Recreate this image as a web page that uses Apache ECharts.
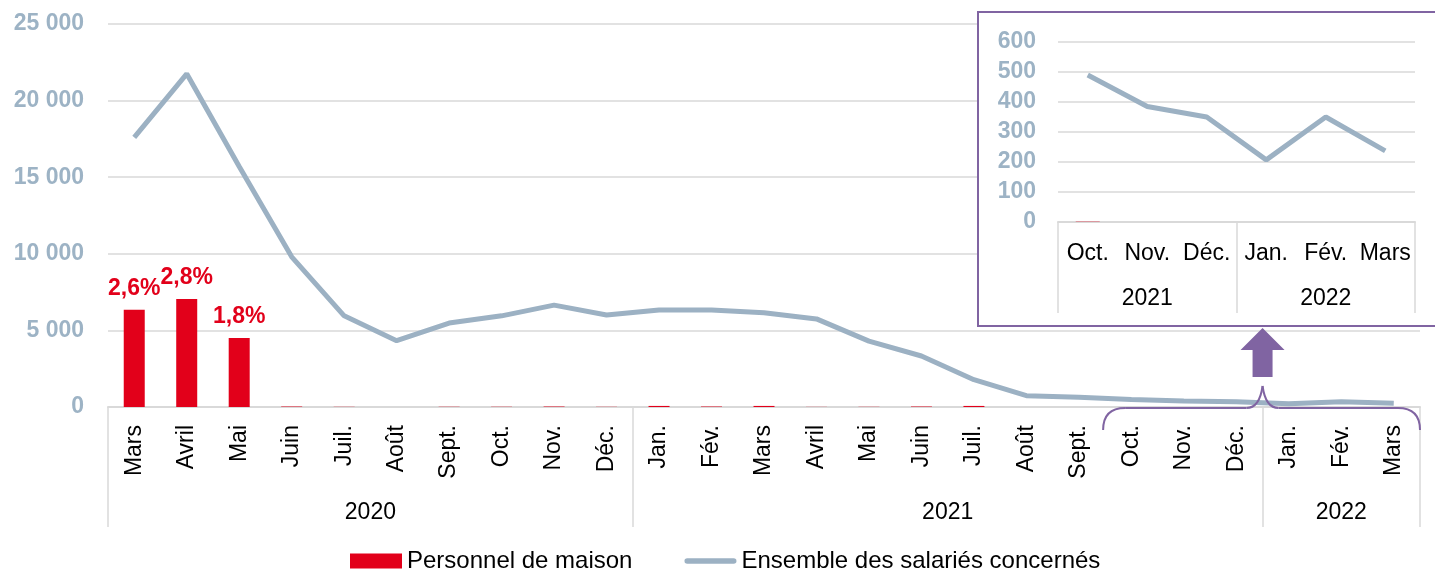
<!DOCTYPE html>
<html lang="fr">
<head>
<meta charset="utf-8">
<title>Personnel de maison – salariés concernés</title>
<script src="https://cdn.jsdelivr.net/npm/echarts@6.0.0/dist/echarts.min.js"></script>
<style>
  html, body { margin: 0; padding: 0; background: #ffffff; }
  #chart { width: 1435px; height: 571px; }
</style>
</head>
<body>
<div id="chart"></div>
<script>
// Months from March 2020 to March 2022
const months = ['Mars', 'Avril', 'Mai', 'Juin', 'Juil.', 'Août', 'Sept.', 'Oct.', 'Nov.', 'Déc.',
  'Jan.', 'Fév.', 'Mars', 'Avril', 'Mai', 'Juin', 'Juil.', 'Août', 'Sept.', 'Oct.', 'Nov.', 'Déc.',
  'Jan.', 'Fév.', 'Mars'];
const yearLabels = ['2020', '2021', '2022'];
const yearSpans = [10, 12, 3];

// Employees concerned, per month
const personnel = [6350, 7050, 4500, 30, 12, 0, 15, 15, 30, 12,
  70, 30, 70, 8, 12, 30, 70, 0, 0, 1, 0, 0, 0, 0, 0];
const ensemble = [17600, 21750, 15700, 9800, 5950, 4330, 5480, 5950, 6650, 6000,
  6330, 6330, 6150, 5750, 4300, 3330, 1780, 740, 640, 490, 385, 350, 207, 350, 237];
// Share of domestic staff in the total, shown above the bars
const shares = ['2,6%', '2,8%', '1,8%'];

// Zoomed panel: last six months
const zoomCount = 6;
const zoomYearLabels = ['2021', '2022'];
const zoomYearSpans = [3, 3];

const mainTicks = [0, 5000, 10000, 15000, 20000, 25000];
const zoomTicks = [0, 100, 200, 300, 400, 500, 600];

const FONT = "'Liberation Sans', Arial, Helvetica, sans-serif";
const RED = '#e2001a';
const BLUE = '#9cb1c3';
const AXIS_TXT = '#9db3c5';
const GRIDC = '#d9d9d9';
const PURPLE = '#8064a2';

function bounds(spans) {
  const b = [0];
  spans.forEach(s => b.push(b[b.length - 1] + s));
  return b;
}
function mids(spans) {
  const b = bounds(spans);
  return spans.map((s, i) => b[i] + s / 2);
}
const thousands = v => String(v).replace(/\B(?=(\d{3})+(?!\d))/g, ' ');

const yearBounds = bounds(yearSpans);
const yearMids = mids(yearSpans);
const zoomBounds = bounds(zoomYearSpans);
const zoomMids = mids(zoomYearSpans);

const chart = echarts.init(document.getElementById('chart'), null, { renderer: 'canvas' });

const option = {
  animation: false,
  backgroundColor: '#ffffff',
  textStyle: { fontFamily: FONT },
  grid: [
    { left: 108, right: 15, top: 24, bottom: 164, containLabel: false },
    { left: 1058, right: 20, top: 42, bottom: 349, containLabel: false }
  ],
  legend: {
    left: 350, top: 549, padding: 0,
    itemWidth: 52, itemHeight: 15, itemGap: 52, itemTextGap: 6,
    textStyle: { fontFamily: FONT, fontSize: 24, color: '#000' },
    data: [
      { name: 'Personnel de maison', icon: 'rect' },
      {
        name: 'Ensemble des salariés concernés',
        icon: 'path://M3,0 L53,0 A3,3 0 0 1 53,6 L3,6 A3,3 0 0 1 3,0 Z',
        itemStyle: { color: BLUE }
      }
    ]
  },
  xAxis: [
    {
      type: 'category', gridIndex: 0, data: months, boundaryGap: true, position: 'bottom',
      axisLine: { show: true, lineStyle: { color: GRIDC, width: 2 } },
      axisTick: { show: false },
      axisLabel: { rotate: 90, margin: 18, interval: 0, fontSize: 23, color: '#000', fontFamily: FONT }
    },
    {
      type: 'value', gridIndex: 0, min: 0, max: yearBounds[yearBounds.length - 1], position: 'bottom',
      axisLine: { show: false },
      splitLine: { show: false },
      axisTick: { show: true, customValues: yearBounds, length: 120, lineStyle: { color: GRIDC, width: 1.5 } },
      axisLabel: {
        customValues: yearMids, margin: 94, fontSize: 23, color: '#000', fontFamily: FONT,
        formatter: v => yearLabels[yearMids.indexOf(v)] || ''
      }
    },
    {
      type: 'category', gridIndex: 1, data: months.slice(-zoomCount), boundaryGap: true, position: 'bottom', z: 3,
      axisLine: { show: true, lineStyle: { color: GRIDC, width: 2 } },
      axisTick: { show: false },
      axisLabel: { interval: 0, margin: 20, fontSize: 23, color: '#000', fontFamily: FONT }
    },
    {
      type: 'value', gridIndex: 1, min: 0, max: zoomBounds[zoomBounds.length - 1], position: 'bottom', z: 3,
      axisLine: { show: false },
      splitLine: { show: false },
      axisTick: { show: true, customValues: zoomBounds, length: 91, lineStyle: { color: GRIDC, width: 1.5 } },
      axisLabel: {
        customValues: zoomMids, margin: 65, fontSize: 23, color: '#000', fontFamily: FONT,
        formatter: v => zoomYearLabels[zoomMids.indexOf(v)] || ''
      }
    }
  ],
  yAxis: [
    {
      type: 'value', gridIndex: 0, min: mainTicks[0], max: mainTicks[mainTicks.length - 1],
      interval: mainTicks[1] - mainTicks[0],
      axisLine: { show: false }, axisTick: { show: false },
      splitLine: { show: true, lineStyle: { color: GRIDC, width: 1.5 } },
      axisLabel: { margin: 24, fontSize: 23, fontWeight: 'bold', color: AXIS_TXT, fontFamily: FONT, formatter: thousands }
    },
    {
      type: 'value', gridIndex: 1, min: zoomTicks[0], max: zoomTicks[zoomTicks.length - 1],
      interval: zoomTicks[1] - zoomTicks[0], z: 3,
      axisLine: { show: false }, axisTick: { show: false },
      splitLine: { show: true, lineStyle: { color: GRIDC, width: 1.5 } },
      axisLabel: { margin: 22, fontSize: 23, fontWeight: 'bold', color: AXIS_TXT, fontFamily: FONT }
    }
  ],
  series: [
    {
      name: 'Personnel de maison', type: 'bar', xAxisIndex: 0, yAxisIndex: 0,
      data: personnel, barWidth: 21, itemStyle: { color: RED },
      label: {
        show: true, position: 'top', distance: 10,
        fontSize: 23, fontWeight: 'bold', color: RED, fontFamily: FONT,
        formatter: p => shares[p.dataIndex] || ''
      }
    },
    {
      name: 'Ensemble des salariés concernés', type: 'line', xAxisIndex: 0, yAxisIndex: 0,
      data: ensemble, symbol: 'none', z: 3,
      lineStyle: { color: BLUE, width: 5 }, itemStyle: { color: BLUE }
    },
    {
      name: 'Personnel de maison', type: 'bar', xAxisIndex: 2, yAxisIndex: 1, z: 4,
      data: personnel.slice(-zoomCount), barWidth: 24, itemStyle: { color: RED }
    },
    {
      name: 'Ensemble des salariés concernés', type: 'line', xAxisIndex: 2, yAxisIndex: 1, z: 5,
      data: ensemble.slice(-zoomCount), symbol: 'none',
      lineStyle: { color: BLUE, width: 5 }, itemStyle: { color: BLUE }
    }
  ]
};

chart.setOption(option);

// Panel frame, arrow and brace pointing at the zoomed period
const px = v => chart.convertToPixel({ xAxisIndex: 1 }, v);
const y0 = chart.convertToPixel({ yAxisIndex: 0 }, 0);
const zStart = yearBounds[yearBounds.length - 1] - zoomCount;
const xL = px(zStart) - 2;
const xR = px(yearBounds[yearBounds.length - 1]);
const xM = px(yearBounds[yearBounds.length - 2]);
const bY = y0 + 1;
const braceStyle = { stroke: PURPLE, lineWidth: 2, fill: 'none' };

function curve(x1, y1, cx, cy, x2, y2) {
  return {
    type: 'bezierCurve', z: 10,
    shape: { x1: x1, y1: y1, cpx1: cx, cpy1: cy, x2: x2, y2: y2 },
    style: braceStyle
  };
}
function seg(x1, y1, x2, y2) {
  return { type: 'line', z: 10, shape: { x1: x1, y1: y1, x2: x2, y2: y2 }, style: braceStyle };
}

chart.setOption({
  graphic: [
    {
      type: 'rect', z: 1,
      shape: { x: 978, y: 12, width: 480, height: 314 },
      style: { fill: '#ffffff', stroke: PURPLE, lineWidth: 2 }
    },
    {
      type: 'polygon', z: 10,
      shape: {
        points: [
          [xM, 328], [xM + 22, 350], [xM + 10, 350], [xM + 10, 377],
          [xM - 10, 377], [xM - 10, 350], [xM - 22, 350]
        ]
      },
      style: { fill: PURPLE }
    },
    curve(xL, bY + 22, xL, bY, xL + 22, bY),
    seg(xL + 22, bY, xM - 16, bY),
    curve(xM - 16, bY, xM - 3, bY, xM, bY - 22),
    curve(xM, bY - 22, xM + 3, bY, xM + 16, bY),
    seg(xM + 16, bY, xR - 22, bY),
    curve(xR - 22, bY, xR, bY, xR, bY + 22)
  ]
});
</script>
</body>
</html>
